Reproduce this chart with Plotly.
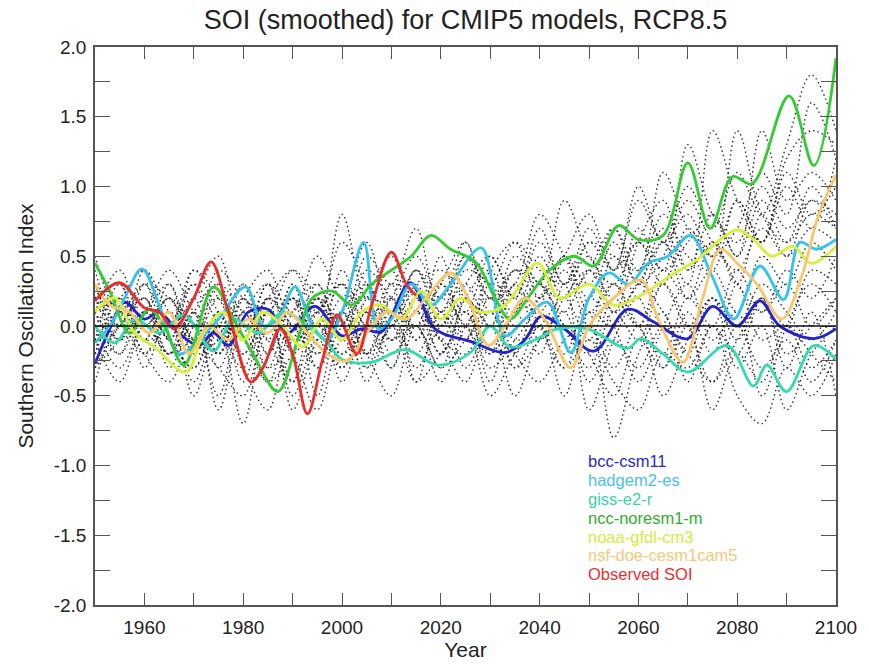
import plotly.graph_objects as go

# ---------------------------------------------------------------------------
# Smoothed Southern Oscillation Index, CMIP5 RCP8.5 runs (1950-2100)
# ---------------------------------------------------------------------------

# Ensemble members (black dotted), sampled every 5 years 1950..2100
ens_years = list(range(1950, 2101, 5))
ens_members = [
    [0.1, -0.2, 0.3, -0.1, 0.2, -0.3, 0.1, -0.2, 0.3, 0.0, 0.8, 0.2, 0.4, -0.1, 0.3, 0.1, 0.5, 0.2, 0.6, 0.3, 0.7, 0.4, 0.9, 0.6, 1.0, 0.7, 1.1, 0.8, 1.3, 1.8, 1.4],
    [-0.2, 0.2, -0.3, 0.1, -0.5, 0.0, -0.7, 0.1, -0.4, 0.2, -0.1, 0.3, 0.0, 0.4, 0.1, 0.5, 0.2, 0.4, 0.3, 0.9, 0.5, 0.3, 0.6, 0.4, 1.3, 0.8, 0.6, 1.0, 0.7, 0.9, 0.8],
    [0.3, 0.0, 0.1, -0.2, 0.4, 0.1, -0.1, 0.3, -0.2, 0.1, 0.3, -0.3, 0.2, 0.0, 0.5, -0.1, 0.3, 0.2, 0.1, 0.4, 0.0, 0.5, 0.2, 0.6, 0.3, 1.4, 0.9, 0.6, 1.0, 0.7, 1.2],
    [-0.1, -0.4, 0.0, -0.2, 0.1, -0.6, 0.0, -0.3, 0.2, -0.5, 0.1, -0.2, -0.5, 0.0, -0.3, 0.2, -0.4, 0.1, -0.2, 0.3, -0.6, -0.1, 0.2, -0.3, 0.1, -0.2, 0.3, -0.1, 0.0, -0.3, -0.1],
    [0.5, 0.1, 0.3, 0.0, 0.4, 0.2, -0.1, 0.3, 0.1, 0.5, 0.2, 0.6, 0.1, 0.4, 0.0, 0.3, 0.5, 0.2, 0.7, 0.3, 0.5, 0.1, 0.6, 0.9, 0.4, 0.8, 0.5, 1.4, 0.9, 1.1, 0.9],
    [0.0, 0.2, -0.1, 0.3, -0.2, 0.1, -0.4, 0.2, -0.6, -0.1, 0.1, -0.2, 0.3, -0.4, 0.1, -0.1, 0.2, -0.3, 0.0, -0.5, 0.1, -0.8, -0.2, 0.1, -0.4, 0.0, -0.2, 0.2, -0.3, 0.1, -0.5],
    [0.2, -0.1, 0.4, 0.1, -0.1, 0.2, 0.0, -0.4, 0.1, 0.3, -0.1, 0.2, 0.5, 0.1, 0.3, 0.0, 0.4, 0.6, 0.2, 0.5, 0.3, 0.7, 0.4, 0.8, 0.5, 0.4, 0.9, 0.6, 1.1, 0.8, 1.0],
    [-0.3, 0.0, 0.2, -0.2, 0.0, -0.5, 0.1, -0.1, -0.4, 0.0, -0.2, 0.1, -0.3, 0.2, -0.1, -0.4, 0.0, -0.2, 0.2, 0.0, -0.3, 0.1, -0.1, 0.3, 0.0, -0.4, -0.1, 0.2, -0.2, 0.0, 0.2],
    [0.1, 0.4, 0.0, 0.2, -0.1, 0.3, 0.1, 0.0, 0.2, -0.2, 0.4, 0.0, 0.2, 0.5, 0.2, 0.6, 0.1, 0.4, 0.2, 0.5, 0.8, 0.4, 0.6, 0.3, 0.7, 0.5, 1.4, 0.8, 0.6, 1.0, 0.7],
    [-0.1, 0.1, -0.2, -0.4, 0.0, 0.2, -0.2, 0.1, -0.1, 0.2, -0.3, 0.0, -0.1, 0.2, -0.2, 0.1, -0.3, -0.1, 0.1, -0.2, 0.2, 0.0, -0.4, 0.0, 0.3, -0.1, 0.1, -0.5, 0.0, 0.3, 0.1],
    [0.4, 0.0, 0.1, 0.3, -0.1, 0.0, 0.3, -0.2, 0.2, 0.0, 0.3, 0.1, 0.0, 0.3, 0.4, 0.2, 0.1, 0.5, 0.3, 0.2, 0.6, 0.4, 1.0, 0.6, 0.8, 0.5, 0.7, 1.1, 0.8, 1.6, 1.2],
    [0.0, -0.2, 0.1, -0.1, -0.3, 0.1, -0.3, -0.6, 0.0, -0.3, 0.1, -0.4, 0.0, -0.2, 0.1, -0.3, 0.0, -0.5, -0.1, 0.0, -0.2, -0.5, -0.1, -0.3, 0.0, -0.6, -0.2, -0.4, 0.0, -0.2, -0.4],
    [0.2, 0.3, -0.1, 0.0, 0.3, -0.2, 0.2, 0.4, 0.0, 0.1, 0.3, 0.0, 0.3, 0.2, 0.0, 0.4, 0.3, 0.1, 0.5, 0.2, 0.4, 0.7, 0.3, 0.5, 0.9, 0.6, 0.4, 0.7, 0.5, 0.9, 0.7],
    [-0.2, 0.1, 0.0, 0.2, -0.2, -0.1, 0.2, -0.1, 0.3, -0.3, 0.0, 0.2, -0.2, 0.0, -0.4, 0.0, 0.2, -0.1, 0.0, 0.2, -0.1, 0.3, 0.0, -0.2, 0.2, 0.0, 0.4, 0.1, 0.3, 0.0, 0.2],
    [0.3, -0.1, 0.2, -0.3, 0.1, 0.3, -0.1, 0.2, 0.0, 0.3, -0.1, 0.4, 0.2, 0.0, 0.3, 0.6, 0.2, 0.3, 0.8, 0.5, 0.2, 0.6, 0.3, 0.7, 0.4, 0.6, 0.3, 0.8, 0.5, 0.7, 0.6],
    [-0.4, 0.0, -0.2, 0.1, -0.1, -0.3, -0.5, 0.0, -0.2, -0.6, -0.1, -0.3, 0.0, -0.4, -0.2, 0.0, -0.5, -0.2, 0.0, -0.3, -0.1, -0.4, -0.6, -0.2, -0.3, 0.0, -0.5, -0.7, -0.3, -0.5, -0.2],
    [0.1, 0.2, 0.4, 0.0, 0.2, 0.5, 0.0, 0.2, 0.4, 0.1, 0.6, 0.3, 0.1, 0.4, 0.2, 0.5, 0.3, 0.6, 0.4, 0.3, 0.6, 0.5, 0.4, 1.1, 0.7, 0.5, 0.9, 0.6, 1.2, 1.4, 1.3],
    [0.0, -0.3, 0.0, -0.2, 0.1, -0.2, 0.2, -0.3, -0.1, 0.2, 0.0, -0.2, 0.1, -0.3, 0.0, 0.1, -0.2, 0.3, 0.0, -0.3, 0.1, 0.0, 0.3, 0.1, -0.2, 0.2, 0.0, 0.3, 0.1, -0.1, 0.1],
    [0.2, 0.0, 0.3, 0.2, 0.0, 0.4, 0.2, 0.1, 0.4, 0.2, 0.0, 0.5, 0.3, 0.7, 0.1, 0.3, 0.0, 0.4, 0.3, 0.1, 0.4, 0.2, 0.7, 0.4, 0.6, 0.8, 0.5, 0.9, 0.6, 0.8, 0.7],
    [-0.1, 0.3, -0.2, 0.0, -0.4, 0.0, -0.2, 0.1, -0.5, -0.1, -0.3, 0.1, -0.1, 0.0, -0.3, -0.1, 0.1, -0.2, -0.4, -0.1, 0.0, -0.3, 0.0, -0.5, -0.1, 0.2, -0.3, 0.0, -0.6, -0.2, 0.0],
    [0.3, 0.1, -0.1, 0.2, 0.0, -0.2, 0.3, 0.0, 0.2, -0.1, 0.2, -0.2, 0.0, 0.3, -0.1, 0.2, 0.0, 0.3, -0.1, 0.2, 0.4, 0.1, 0.3, 0.6, 0.2, 0.4, 0.1, 0.5, 0.3, 0.6, 0.4],
    [-0.2, 0.0, 0.2, -0.1, 0.3, 0.0, -0.3, 0.2, 0.0, -0.2, 0.1, 0.3, -0.1, 0.1, -0.2, 0.2, 0.4, 0.0, 0.2, 0.5, 0.1, 0.3, 0.0, 0.4, 0.2, 0.6, 0.3, 0.1, 0.4, 0.2, 0.5],
    [0.1, -0.1, 0.1, 0.4, 0.1, -0.1, 0.1, 0.3, -0.1, 0.0, -0.2, 0.0, 0.2, -0.1, 0.2, 0.0, -0.2, 0.1, 0.3, 0.0, -0.2, 0.2, 0.0, 0.3, 0.0, 0.2, -0.1, 0.2, 0.0, 0.4, 0.3],
    [-0.3, -0.1, 0.1, -0.1, -0.3, 0.0, -0.1, -0.4, -0.2, 0.1, -0.4, 0.0, -0.3, 0.1, -0.1, -0.2, 0.1, -0.3, -0.1, 0.1, -0.4, -0.1, -0.3, 0.0, -0.2, -0.4, 0.0, -0.3, -0.1, -0.4, -0.1],
]

# Highlighted models
bcc_years = [1950, 1953, 1956, 1960, 1963, 1967, 1971, 1974, 1977, 1981, 1985, 1989, 1994.5, 2000, 2004, 2008,
             2013.8, 2018.8, 2026, 2033, 2037, 2040.3, 2045, 2051, 2057.8, 2063, 2070, 2075, 2080, 2084.6, 2088.6,
             2095.5, 2100]
bcc_soi = [-0.27, -0.02, 0.17, 0.05, 0.1, -0.05, -0.14, -0.05, -0.14, 0.1, 0.12, -0.05, 0.14, -0.07, -0.02, -0.04,
           0.31, -0.02, -0.11, -0.19, -0.1, 0.07, -0.02, -0.18, 0.12, 0.03, -0.09, 0.14, 0.0, 0.18, 0.0,
           -0.09, -0.02]

hadgem_years = [1950, 1953, 1956, 1959.5, 1963, 1967, 1971, 1975, 1980.5, 1984, 1987, 1990.5, 1994, 1997, 2000,
                2004.4, 2007.3, 2010, 2014, 2018, 2022, 2028.2, 2033, 2037, 2041.6, 2046.3, 2050, 2054, 2058, 2062,
                2066, 2070.5, 2075, 2079.3, 2084.6, 2089.4, 2092.7, 2096, 2100]
hadgem_soi = [-0.12, 0.0, 0.2, 0.41, 0.15, -0.2, -0.1, 0.05, 0.28, 0.0, 0.05, 0.28, 0.0, -0.1, 0.1,
              0.6, -0.02, 0.05, 0.3, 0.15, 0.3, 0.56, -0.07, 0.05, 0.17, -0.19, 0.2, 0.38, 0.3, 0.45,
              0.5, 0.65, 0.35, 0.05, 0.43, 0.19, 0.6, 0.55, 0.62]

giss_years = [1950, 1954, 1958, 1963, 1968, 1974, 1978, 1983, 1988, 1993, 1997, 2000, 2006, 2012.7, 2019.5, 2026,
              2030, 2034, 2039, 2043.6, 2049.7, 2057.8, 2060.5, 2065, 2070, 2078, 2083.3, 2086, 2090, 2095.5, 2100]
giss_soi = [0.0, -0.12, 0.05, -0.05, 0.08, -0.18, 0.05, -0.05, 0.1, 0.0, -0.12, -0.24, -0.26, -0.17, -0.28, -0.19,
            0.0, -0.15, -0.1, -0.02, -0.02, -0.16, -0.09, -0.2, -0.33, -0.14, -0.43, -0.28, -0.47, -0.14, -0.24]

ncc_years = [1950, 1953, 1957, 1961, 1964, 1968, 1974, 1978, 1982, 1987, 1991, 1994, 1998, 2002, 2006, 2010, 2014,
             2018, 2022, 2027, 2031, 2034, 2038, 2042, 2047, 2051, 2056, 2060, 2065, 2070, 2074.5, 2079, 2083,
             2090.5, 2095.5, 2100]
ncc_soi = [0.45, 0.25, -0.05, 0.12, 0.0, -0.28, 0.28, 0.05, -0.2, -0.47, -0.1, 0.2, 0.25, 0.15, 0.3, 0.4, 0.5,
           0.65, 0.55, 0.46, 0.2, 0.05, 0.22, 0.4, 0.5, 0.43, 0.72, 0.62, 0.65, 1.17, 0.7, 1.07, 1.02,
           1.65, 1.15, 1.92]

noaa_years = [1950, 1954, 1958, 1962, 1968.4, 1972, 1976, 1980, 1984, 1988, 1992, 1996, 2000, 2004, 2008, 2012,
              2016, 2020, 2024, 2028, 2033, 2039.6, 2044, 2050, 2055, 2060, 2066.5, 2072, 2076.6, 2080, 2083.3,
              2087, 2091.3, 2095, 2100]
noaa_soi = [0.1, 0.2, -0.05, -0.15, -0.33, -0.05, 0.1, -0.1, 0.1, 0.0, -0.15, 0.05, -0.1, 0.1, 0.15, 0.05,
            0.25, 0.05, 0.2, 0.1, 0.15, 0.45, 0.2, 0.3, 0.15, 0.21, 0.36, 0.48, 0.62, 0.69, 0.62,
            0.5, 0.57, 0.45, 0.57]

nsf_years = [1950, 1953, 1957, 1961, 1965, 1969, 1973, 1977, 1981, 1985, 1989, 1993, 1997, 2001, 2005, 2009, 2013,
             2017, 2022, 2025.5, 2029.6, 2033, 2037, 2041, 2046.3, 2050, 2055, 2060.5, 2064, 2069, 2073, 2076.6,
             2080, 2084, 2089, 2093, 2096.5, 2100]
nsf_soi = [0.3, 0.15, 0.1, -0.05, 0.1, -0.2, 0.0, -0.1, 0.05, -0.05, 0.1, -0.05, -0.2, -0.25, -0.05, 0.1, 0.05,
           0.2, 0.38, 0.2, -0.14, 0.0, 0.2, 0.05, -0.3, 0.0, 0.2, 0.33, 0.05, -0.26, 0.2, 0.55,
           0.45, 0.3, 0.05, 0.35, 0.8, 1.08]

obs_years = [1950, 1955, 1960, 1963, 1966, 1970, 1973.5, 1977, 1981.5, 1984, 1987.5, 1990, 1993, 1996, 1999, 2003,
             2006, 2010, 2013, 2015]
obs_soi = [0.18, 0.31, 0.13, 0.1, -0.02, 0.2, 0.46, 0.1, -0.4, -0.3, -0.02, -0.2, -0.63, -0.25, 0.08, -0.2,
           0.15, 0.53, 0.3, 0.22]

series_names = ["bcc-csm11", "hadgem2-es", "giss-e2-r", "ncc-noresm1-m", "noaa-gfdl-cm3",
                "nsf-doe-cesm1cam5", "Observed SOI"]
series_colors = ["#2222cc", "#33c4ee", "#33dcb0", "#33cc33", "#d6f03c", "#f8c66c", "#ee2b2b"]
series_text_colors = ["#2a2ac4", "#4cc0e6", "#3cd2aa", "#2fae2f", "#d2ec44", "#f6c878", "#e83030"]
series_x = [bcc_years, hadgem_years, giss_years, ncc_years, noaa_years, nsf_years, obs_years]
series_y = [bcc_soi, hadgem_soi, giss_soi, ncc_soi, noaa_soi, nsf_soi, obs_soi]

# Label block positions (data coordinates)
label_x = 2049.5
label_y = [-0.97, -1.105, -1.24, -1.375, -1.51, -1.645, -1.78]

x_ticks = list(range(1960, 2101, 20))
y_ticks = [-2.0, -1.5, -1.0, -0.5, 0.0, 0.5, 1.0, 1.5, 2.0]
y_tick_text = ["-2.0", "-1.5", "-1.0", "-0.5", "0.0", "0.5", "1.0", "1.5", "2.0"]

FONT = "Liberation Sans, Arial, Helvetica, sans-serif"
INK = "#222222"
FRAME = "#555555"

fig = go.Figure()

for member in ens_members:
    fig.add_trace(go.Scatter(
        x=ens_years, y=member, mode="lines",
        line=dict(color="rgba(25,25,25,0.9)", width=1.4, dash="1.5px,3px", shape="spline", smoothing=1.0),
        hoverinfo="skip", showlegend=False,
    ))

for name, col, xs, ys in zip(series_names, series_colors, series_x, series_y):
    fig.add_trace(go.Scatter(
        x=xs, y=ys, mode="lines", name=name,
        line=dict(color=col, width=2.8, shape="spline", smoothing=1.0),
        showlegend=False,
    ))

# zero reference line
fig.add_hline(y=0, line=dict(color="#111111", width=1.6), layer="above")

for name, col, ly in zip(series_names, series_text_colors, label_y):
    fig.add_annotation(x=label_x, y=ly, xref="x", yref="y", text=name, showarrow=False,
                       xanchor="left", yanchor="middle", borderpad=0,
                       font=dict(family=FONT, size=16.5, color=col))

axis_common = dict(
    showgrid=False, zeroline=False, showline=True, linecolor=FRAME, linewidth=1.5,
    mirror="ticks", ticks="inside", tickcolor=FRAME, tickwidth=1.2,
    tickfont=dict(family=FONT, size=19, color=INK),
)

fig.update_xaxes(
    range=[1950, 2100], tickvals=x_ticks, ticklen=12, ticklabelstandoff=4,
    minor=dict(dtick=10, tick0=1950, ticks="inside", ticklen=12, tickcolor=FRAME, tickwidth=1.2),
    title=dict(text="Year", font=dict(family=FONT, size=21, color=INK), standoff=2),
    **axis_common,
)
fig.update_yaxes(
    range=[-2.0, 2.0], tickvals=y_ticks, ticktext=y_tick_text, ticklen=15, ticklabelstandoff=3,
    minor=dict(dtick=0.25, tick0=0, ticks="inside", ticklen=15, tickcolor=FRAME, tickwidth=1.2),
    title=dict(text="Southern Oscillation Index", font=dict(family=FONT, size=21, color=INK), standoff=14),
    **axis_common,
)

fig.update_layout(
    width=869, height=666,
    margin=dict(l=95, r=28, t=47, b=58),
    paper_bgcolor="white", plot_bgcolor="white",
    title=dict(text="SOI (smoothed) for CMIP5 models, RCP8.5", x=0.5, xanchor="center",
               xref="paper", y=0.97, yanchor="middle",
               font=dict(family=FONT, size=27, color=INK)),
    font=dict(family=FONT),
)

fig.write_html("out.html")
